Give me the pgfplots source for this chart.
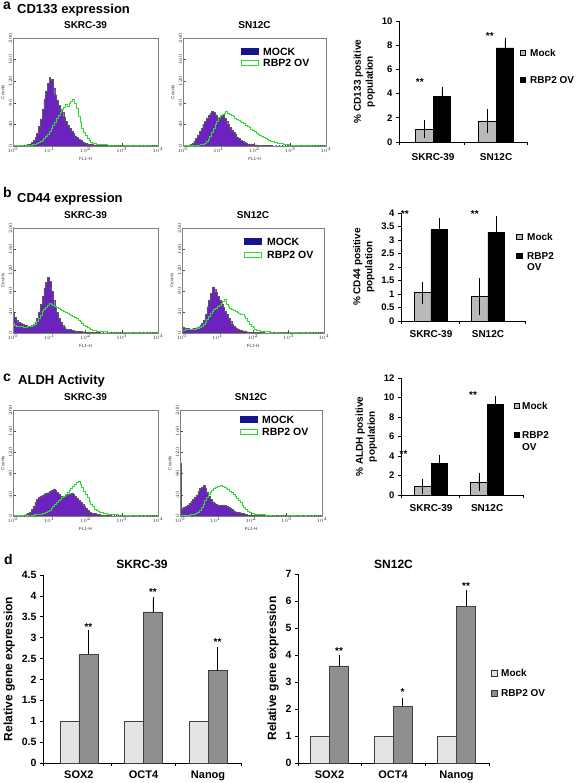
\documentclass[border=0pt]{standalone}
\usepackage{fontspec}
\setmainfont{Liberation Sans}
\usepackage{pgfplots}
\pgfplotsset{compat=1.18}
\definecolor{mockpurple}{RGB}{108,34,190}
\definecolor{ovgreen}{RGB}{40,225,40}
\definecolor{legnavy}{RGB}{22,22,140}
\definecolor{mockgray}{RGB}{185,185,185}
\definecolor{dmock}{RGB}{228,228,228}
\definecolor{dov}{RGB}{143,143,143}
\newcommand{\fsz}[2]{\fontsize{#1}{#2}\selectfont}
\pgfplotsset{
 hist/.style={
  scale only axis, anchor=south west,
  xmin=0, xmax=4, ymin=0, ymax=200,
  axis line style={draw=gray, line width=0.5pt},
  tick pos=left, tick align=inside,
  xtick={0,1,2,3,4},
  xticklabels={$10^0$,$10^1$,$10^2$,$10^3$,$10^4$},
  minor xtick={0.301,0.477,0.602,0.699,0.778,0.845,0.903,0.954,1.301,1.477,1.602,1.699,1.778,1.845,1.903,1.954,2.301,2.477,2.602,2.699,2.778,2.845,2.903,2.954,3.301,3.477,3.602,3.699,3.778,3.845,3.903,3.954},
  ytick={0,40,80,120,160,200},
  minor ytick={10,20,...,190},
  major tick length=2.5pt, minor tick length=1.2pt,
  tick style={gray!60!black, line width=0.3pt},
  tick label style={font=\fsz{4.5}{5}, text=gray!40!black},
  yticklabel style={rotate=90, anchor=south, inner sep=0.8pt},
  xticklabel style={anchor=north, inner sep=1pt},
  xlabel={FL1-H}, ylabel={Counts},
  label style={font=\fsz{4.5}{5}, text=gray!40!black},
  title style={font=\bfseries\fsz{10}{12}, at={(0.5,1)}, anchor=base, yshift=3.5pt},
  axis on top,
 },
 mock/.style={const plot, fill=mockpurple, draw=black!65, line width=0.3pt},
 ov/.style={const plot, draw=ovgreen, line width=1pt},
 barax/.style={
  scale only axis, anchor=south west,
  axis lines*=left,
  axis line style={black, line width=0.6pt},
  ymin=0, clip=false,
  tick align=outside, major tick length=3pt,
  tick style={black, line width=0.6pt},
  /pgf/number format/assume math mode=true,
  tick label style={font=\bfseries\fsz{9.5}{11}},
  ylabel style={font=\bfseries\fsz{10}{12}, align=center},
  xticklabels={},
  extra x tick style={tick style={draw=none}, tick label style={font=\bfseries\fsz{10}{12}}},
 },
 ebar/.style={error bars/error bar style={black, line width=0.6pt}, error bars/error mark options={black, mark size=3.2pt, line width=0.6pt}},
}
\begin{document}
\begin{tikzpicture}
\path[use as bounding box] (0,0) rectangle (576pt,783pt);
% ---------- panel labels ----------
\node[anchor=base west, inner sep=0, font=\bfseries\fsz{14}{16}] at (3pt,773pt) {a};
\node[anchor=base west, inner sep=0, font=\bfseries\fsz{13}{15}] at (17pt,769.5pt) {CD133 expression};
\node[anchor=base west, inner sep=0, font=\bfseries\fsz{14}{16}] at (3pt,585pt) {b};
\node[anchor=base west, inner sep=0, font=\bfseries\fsz{13}{15}] at (17pt,580.5pt) {CD44 expression};
\node[anchor=base west, inner sep=0, font=\bfseries\fsz{14}{16}] at (3pt,401pt) {c};
\node[anchor=base west, inner sep=0, font=\bfseries\fsz{13}{15}] at (18pt,398pt) {ALDH Activity};
\node[anchor=base west, inner sep=0, font=\bfseries\fsz{14}{16}] at (4pt,218pt) {d};

% ================= PANEL A =================
\begin{axis}[hist, at={(13pt,637pt)}, width=145pt, height=108pt, title={SKRC-39}]
\addplot[mock] coordinates {(0,0) (0.1,1) (0.2,1) (0.3,2) (0.35,2) (0.4,3) (0.45,4) (0.5,7) (0.55,10) (0.6,16) (0.65,24) (0.7,36) (0.75,50) (0.8,68) (0.85,86) (0.9,102) (0.95,116) (1.0,127) (1.03,122) (1.05,124) (1.1,108) (1.15,95) (1.2,84) (1.25,75) (1.3,69) (1.35,63) (1.4,54) (1.45,46) (1.5,39) (1.55,33) (1.6,28) (1.65,23) (1.7,19) (1.75,16) (1.8,13) (1.85,10) (1.9,8) (1.95,6) (2.0,5) (2.05,4) (2.1,3) (2.2,2) (2.3,1) (2.5,1) (2.7,0) (4,0)} \closedcycle;
\addplot[ov] coordinates {(0,1) (0.3,0) (0.4,1) (0.5,1) (0.55,2) (0.6,3) (0.65,4) (0.7,6) (0.75,8) (0.8,11) (0.85,14) (0.9,18) (0.95,22) (1.0,27) (1.05,32) (1.1,38) (1.15,44) (1.2,51) (1.25,57) (1.3,62) (1.35,68) (1.4,72) (1.45,76) (1.5,74) (1.55,79) (1.6,82) (1.65,86) (1.7,79) (1.75,69) (1.8,55) (1.85,43) (1.9,33) (1.95,25) (2.0,19) (2.05,14) (2.1,10) (2.15,7) (2.2,5) (2.3,3) (2.4,2) (2.6,1) (3.2,1) (3.5,0) (4,1)};
\end{axis}
\begin{axis}[hist, at={(183pt,637pt)}, width=143pt, height=108pt, title={SN12C}]
\addplot[mock] coordinates {(0,0) (0.1,1) (0.15,2) (0.2,3) (0.25,5) (0.3,9) (0.35,14) (0.4,20) (0.45,27) (0.5,33) (0.55,40) (0.6,46) (0.65,52) (0.7,57) (0.75,61) (0.8,64) (0.85,62) (0.9,58) (0.95,53) (1.0,50) (1.05,55) (1.1,57) (1.15,52) (1.2,46) (1.25,40) (1.3,35) (1.35,30) (1.4,25) (1.45,21) (1.5,17) (1.55,14) (1.6,11) (1.65,9) (1.7,7) (1.75,6) (1.8,4) (1.9,3) (2.0,2) (2.1,1) (2.3,1) (2.5,0) (4,0)} \closedcycle;
\addplot[ov] coordinates {(0,1) (0.4,1) (0.5,2) (0.55,3) (0.6,5) (0.65,8) (0.7,12) (0.75,18) (0.8,25) (0.85,33) (0.9,40) (0.95,46) (1.0,52) (1.05,56) (1.1,59) (1.15,61) (1.2,63) (1.25,60) (1.3,58) (1.35,56) (1.4,54) (1.45,51) (1.5,49) (1.55,47) (1.6,45) (1.65,43) (1.7,41) (1.75,38) (1.8,36) (1.85,34) (1.9,31) (1.95,29) (2.0,27) (2.05,24) (2.1,22) (2.15,20) (2.2,17) (2.25,15) (2.3,14) (2.35,12) (2.4,10) (2.45,9) (2.5,8) (2.55,7) (2.6,6) (2.65,5) (2.7,4) (2.8,3) (2.9,2) (3.0,1) (4,1)};
\end{axis}
\begin{axis}[barax, at={(399pt,641pt)}, width=128pt, height=121pt,
  xmin=0.46, xmax=2.49, ymax=10, ytick={0,2,...,10},
  xtick={0.46,1.5,2.49}, extra x ticks={1,2}, extra x tick labels={SKRC-39,SN12C},
  extra x tick style={tick label style={yshift=-5pt}},
  ylabel={\% CD133 positive\\population}]
\addplot[ybar, bar width=0.278, bar shift=0pt, fill=mockgray, draw=black, line width=0.6pt, error bars/y dir=both, error bars/y explicit, ebar] coordinates {(0.861,1.05) +- (0,0.48) (1.861,1.75) +- (0,0.73)};
\addplot[ybar, bar width=0.278, bar shift=0pt, fill=black, draw=black, line width=0.6pt, error bars/y dir=plus, error bars/y explicit, ebar] coordinates {(1.139,3.77) +- (0,0.55) (2.139,7.77) +- (0,0.58)};
\node[font=\bfseries\fsz{10}{12}, inner sep=0] at (axis cs:0.79,4.95) {**};
\node[font=\bfseries\fsz{10}{12}, inner sep=0] at (axis cs:1.9,8.76) {**};
\end{axis}

% ================= PANEL B =================
\begin{axis}[hist, at={(13pt,450pt)}, width=145pt, height=105pt, title={SKRC-39}]
\addplot[mock] coordinates {(0,40) (0.03,30) (0.08,24) (0.13,20) (0.2,18) (0.25,16) (0.3,15) (0.35,14) (0.4,13) (0.45,13) (0.5,14) (0.55,16) (0.6,20) (0.65,28) (0.7,40) (0.75,55) (0.8,70) (0.85,85) (0.9,96) (0.95,106) (1.0,98) (1.05,80) (1.1,62) (1.15,50) (1.2,39) (1.25,29) (1.3,21) (1.35,15) (1.4,11) (1.45,8) (1.5,7) (1.6,5) (1.7,4) (1.8,3) (1.9,2) (2.0,2) (2.2,1) (2.4,0) (4,0)} \closedcycle;
\addplot[ov] coordinates {(0,210) (0.015,18) (0.05,14) (0.1,13) (0.2,12) (0.3,11) (0.4,12) (0.5,13) (0.55,14) (0.6,17) (0.65,22) (0.7,28) (0.75,34) (0.8,40) (0.85,45) (0.9,48) (0.95,52) (1.0,56) (1.05,54) (1.1,52) (1.15,50) (1.2,49) (1.25,47) (1.3,45) (1.35,43) (1.4,41) (1.45,39) (1.5,37) (1.55,35) (1.6,33) (1.65,31) (1.7,29) (1.75,27) (1.8,24) (1.85,21) (1.9,18) (1.95,15) (2.0,12) (2.05,10) (2.1,8) (2.15,6) (2.2,4) (2.3,3) (2.4,2) (2.6,1) (4,1)};
\end{axis}
\begin{axis}[hist, at={(182pt,450pt)}, width=142pt, height=105pt, title={SN12C}]
\addplot[mock] coordinates {(0,12) (0.05,10) (0.1,9) (0.2,8) (0.3,9) (0.4,10) (0.45,12) (0.5,14) (0.55,18) (0.6,25) (0.65,36) (0.7,50) (0.75,63) (0.8,76) (0.85,88) (0.9,84) (0.95,78) (1.0,70) (1.05,62) (1.1,55) (1.15,49) (1.2,42) (1.25,35) (1.3,28) (1.35,22) (1.4,17) (1.45,13) (1.5,10) (1.55,7) (1.6,6) (1.7,4) (1.8,2) (1.9,1) (2.1,1) (2.3,0) (4,0)} \closedcycle;
\addplot[ov] coordinates {(0,5) (0.1,6) (0.2,7) (0.3,7) (0.4,8) (0.5,10) (0.55,12) (0.6,16) (0.65,20) (0.7,26) (0.75,32) (0.8,37) (0.85,41) (0.9,44) (0.95,47) (1.0,50) (1.05,53) (1.1,56) (1.15,60) (1.2,64) (1.25,55) (1.3,50) (1.35,47) (1.4,45) (1.45,43) (1.5,41) (1.55,39) (1.6,38) (1.65,36) (1.7,35) (1.75,32) (1.8,27) (1.85,22) (1.9,17) (1.95,13) (2.0,10) (2.05,7) (2.1,5) (2.2,3) (2.3,2) (2.5,1) (4,1)};
\end{axis}
\begin{axis}[barax, at={(401pt,462pt)}, width=124pt, height=108pt,
  xmin=0.474, xmax=2.65, ymax=4, ytick={0,0.5,...,4},
  xtick={0.474,1.5,2.65}, extra x ticks={1,2}, extra x tick labels={SKRC-39,SN12C},
  extra x tick style={tick label style={yshift=-3pt}},
  ylabel={\% CD44 positive\\population}]
\addplot[ybar, bar width=0.29, bar shift=0pt, fill=mockgray, draw=black, line width=0.6pt, error bars/y dir=both, error bars/y explicit, ebar] coordinates {(0.855,1.05) +- (0,0.29) (1.855,0.9) +- (0,0.57)};
\addplot[ybar, bar width=0.29, bar shift=0pt, fill=black, draw=black, line width=0.6pt, error bars/y dir=plus, error bars/y explicit, ebar] coordinates {(1.145,3.38) +- (0,0.31) (2.145,3.27) +- (0,0.5)};
\node[font=\bfseries\fsz{10}{12}, inner sep=0] at (axis cs:0.54,3.97) {**};
\node[font=\bfseries\fsz{10}{12}, inner sep=0] at (axis cs:1.77,3.97) {**};
\end{axis}

% ================= PANEL C =================
\begin{axis}[hist, at={(13pt,267pt)}, width=145pt, height=106pt, title={SKRC-39}]
\addplot[mock] coordinates {(0,0) (0.2,1) (0.3,2) (0.35,3) (0.4,5) (0.45,8) (0.5,12) (0.55,18) (0.6,26) (0.65,32) (0.7,36) (0.75,38) (0.8,40) (0.85,42) (0.9,43) (0.95,44) (1.0,46) (1.05,48) (1.1,51) (1.15,49) (1.2,45) (1.25,42) (1.3,38) (1.35,36) (1.4,37) (1.45,39) (1.5,41) (1.55,42) (1.6,43) (1.65,41) (1.7,38) (1.75,34) (1.8,30) (1.85,26) (1.9,22) (1.95,18) (2.0,14) (2.05,11) (2.1,8) (2.15,6) (2.2,5) (2.3,3) (2.4,2) (2.5,1) (2.7,0) (4,0)} \closedcycle;
\addplot[ov] coordinates {(0,1) (0.5,1) (0.6,2) (0.7,3) (0.8,4) (0.85,5) (0.9,7) (0.95,9) (1.0,11) (1.05,14) (1.1,18) (1.15,22) (1.2,26) (1.25,29) (1.3,31) (1.35,34) (1.4,37) (1.45,40) (1.5,44) (1.55,48) (1.6,52) (1.65,56) (1.7,60) (1.75,63) (1.8,66) (1.85,60) (1.9,54) (1.95,47) (2.0,40) (2.05,34) (2.1,28) (2.15,22) (2.2,17) (2.25,13) (2.3,10) (2.35,8) (2.4,6) (2.5,4) (2.6,3) (2.7,2) (2.9,1) (4,1)};
\end{axis}
\begin{axis}[hist, at={(180pt,267pt)}, width=142pt, height=106pt, title={SN12C}]
\addplot[mock] coordinates {(0,100) (0.02,12) (0.05,14) (0.1,16) (0.15,18) (0.2,21) (0.25,24) (0.3,28) (0.35,31) (0.4,35) (0.45,40) (0.5,46) (0.55,52) (0.6,55) (0.65,58) (0.7,53) (0.75,45) (0.8,37) (0.85,31) (0.9,27) (0.95,24) (1.0,22) (1.05,21) (1.1,20) (1.15,20) (1.2,21) (1.25,20) (1.3,18) (1.35,16) (1.4,14) (1.45,12) (1.5,10) (1.55,8) (1.6,7) (1.7,5) (1.8,3) (1.9,2) (2.0,1) (2.2,1) (2.4,0) (4,0)} \closedcycle;
\addplot[ov] coordinates {(0,1) (0.3,2) (0.4,3) (0.45,4) (0.5,6) (0.55,10) (0.6,16) (0.65,22) (0.7,29) (0.75,35) (0.8,40) (0.85,45) (0.9,48) (0.95,51) (1.0,53) (1.05,55) (1.1,56) (1.15,57) (1.2,56) (1.25,54) (1.3,52) (1.35,50) (1.4,47) (1.45,44) (1.5,41) (1.55,37) (1.6,33) (1.65,29) (1.7,25) (1.75,20) (1.8,16) (1.85,12) (1.9,9) (1.95,7) (2.0,5) (2.1,3) (2.2,2) (2.4,1) (4,1)};
\end{axis}
\begin{axis}[barax, at={(401pt,288pt)}, width=122pt, height=117pt,
  xmin=0.464, xmax=2.64, ymax=12, ytick={0,2,...,12},
  xtick={0.464,1.5,2.64}, extra x ticks={1,2}, extra x tick labels={SKRC-39,SN12C},
  extra x tick style={tick label style={yshift=-3pt}},
  ylabel={\% ALDH positive\\population}]
\addplot[ybar, bar width=0.295, bar shift=0pt, fill=mockgray, draw=black, line width=0.6pt, error bars/y dir=both, error bars/y explicit, ebar] coordinates {(0.852,0.86) +- (0,0.44) (1.852,1.3) +- (0,0.6)};
\addplot[ybar, bar width=0.295, bar shift=0pt, fill=black, draw=black, line width=0.6pt, error bars/y dir=plus, error bars/y explicit, ebar] coordinates {(1.148,3.26) +- (0,0.5) (2.148,9.32) +- (0,0.52)};
\node[font=\bfseries\fsz{10}{12}, inner sep=0] at (axis cs:0.51,4.2) {**};
\node[font=\bfseries\fsz{10}{12}, inner sep=0] at (axis cs:1.75,10.26) {**};
\end{axis}

% ================= PANEL D =================
\begin{axis}[barax, at={(43pt,20pt)}, width=198pt, height=188pt,
  xmin=0.444, xmax=3.51, ymax=4.5, ytick={0,0.5,...,4.5},
  xtick={0.444,1.5,2.5,3.51}, extra x ticks={1,2,3}, extra x tick labels={SOX2,OCT4,Nanog},
  tick label style={font=\bfseries\fsz{10.5}{12}},
  extra x tick style={tick label style={yshift=-1pt, font=\bfseries\fsz{11}{13}}},
  ylabel={Relative gene expression}, ylabel style={font=\bfseries\fsz{12}{14}},
  title={SKRC-39}, title style={font=\bfseries\fsz{12}{14}, at={(0.5,1)}, anchor=base, yshift=0pt}]
\addplot[ybar, bar width=0.293, bar shift=0pt, fill=dmock, draw=black!75, line width=0.5pt] coordinates {(0.853,1) (1.853,1) (2.853,1)};
\addplot[ybar, bar width=0.293, bar shift=0pt, fill=dov, draw=black!75, line width=0.5pt, error bars/y dir=plus, error bars/y explicit, error bars/error bar style={black, line width=0.6pt}, error bars/error mark options={black, mark size=2.4pt, line width=0.6pt}] coordinates {(1.147,2.6) +- (0,0.52) (2.147,3.62) +- (0,0.3) (3.147,2.21) +- (0,0.51)};
\node[font=\bfseries\fsz{10}{12}, inner sep=0] at (axis cs:1.147,3.25) {**};
\node[font=\bfseries\fsz{10}{12}, inner sep=0] at (axis cs:2.147,4.1) {**};
\node[font=\bfseries\fsz{10}{12}, inner sep=0] at (axis cs:3.147,2.9) {**};
\end{axis}
\begin{axis}[barax, at={(298pt,20pt)}, width=191pt, height=189pt,
  xmin=0.504, xmax=3.51, ymax=7, ytick={0,1,...,7},
  xtick={0.504,1.5,2.5,3.51}, extra x ticks={1,2,3}, extra x tick labels={SOX2,OCT4,Nanog},
  tick label style={font=\bfseries\fsz{10.5}{12}},
  extra x tick style={tick label style={yshift=-1pt, font=\bfseries\fsz{11}{13}}},
  ylabel={Relative gene expression}, ylabel style={font=\bfseries\fsz{12}{14}},
  title={SN12C}, title style={font=\bfseries\fsz{12}{14}, at={(0.5,1)}, anchor=base, yshift=0pt}]
\addplot[ybar, bar width=0.3, bar shift=0pt, fill=dmock, draw=black!75, line width=0.5pt] coordinates {(0.85,1) (1.85,1) (2.85,1)};
\addplot[ybar, bar width=0.3, bar shift=0pt, fill=dov, draw=black!75, line width=0.5pt, error bars/y dir=plus, error bars/y explicit, error bars/error bar style={black, line width=0.6pt}, error bars/error mark options={black, mark size=2.4pt, line width=0.6pt}] coordinates {(1.15,3.6) +- (0,0.31) (2.15,2.1) +- (0,0.21) (3.15,5.8) +- (0,0.53)};
\node[font=\bfseries\fsz{10}{12}, inner sep=0] at (axis cs:1.15,4.13) {**};
\node[font=\bfseries\fsz{10}{12}, inner sep=0] at (axis cs:2.15,2.63) {*};
\node[font=\bfseries\fsz{10}{12}, inner sep=0] at (axis cs:3.15,6.54) {**};
\end{axis}

% ---------- histogram legends ----------
\begin{scope}[every node/.style={anchor=west, inner sep=0, font=\bfseries\fsz{10.5}{12}}]
\fill[legnavy] (241pt,728pt) rectangle (259pt,735pt);
\draw[ovgreen, line width=1.4pt, fill=white] (241.7pt,717.7pt) rectangle (258.3pt,722.3pt);
\node at (263pt,731.5pt) {MOCK};
\node at (263pt,720pt) {RBP2 OV};
\fill[legnavy] (244pt,537.5pt) rectangle (262pt,544.5pt);
\draw[ovgreen, line width=1.4pt, fill=white] (244.7pt,525.7pt) rectangle (261.3pt,530.3pt);
\node at (267pt,541pt) {MOCK};
\node at (267pt,528pt) {RBP2 OV};
\fill[legnavy] (240pt,360pt) rectangle (258pt,367pt);
\draw[ovgreen, line width=1.4pt, fill=white] (240.7pt,348.7pt) rectangle (257.3pt,353.3pt);
\node at (262pt,363.5pt) {MOCK};
\node at (262pt,351pt) {RBP2 OV};
\end{scope}
% ---------- bar legends ----------
\begin{scope}[every node/.style={anchor=west, inner sep=0, font=\bfseries\fsz{10}{12}}]
\draw[fill=mockgray, line width=0.5pt] (520pt,727.3pt) rectangle (525.5pt,732.8pt);
\node at (530pt,730pt) {Mock};
\draw[fill=black, line width=0.5pt] (520pt,700.3pt) rectangle (525.5pt,705.8pt);
\node at (530pt,703pt) {RBP2 OV};
\draw[fill=mockgray, line width=0.5pt] (516.5pt,543.3pt) rectangle (522pt,548.8pt);
\node at (527pt,546pt) {Mock};
\draw[fill=black, line width=0.5pt] (516.5pt,524.3pt) rectangle (522pt,529.8pt);
\node at (527pt,527pt) {RBP2};
\node at (527pt,515.5pt) {OV};
\draw[fill=mockgray, line width=0.5pt] (514pt,374.3pt) rectangle (519.5pt,379.8pt);
\node at (522pt,377pt) {Mock};
\draw[fill=black, line width=0.5pt] (514pt,345.3pt) rectangle (519.5pt,350.8pt);
\node at (522pt,348pt) {RBP2};
\node at (522pt,336pt) {OV};
\draw[fill=dmock, draw=black!80, line width=0.5pt] (491pt,107pt) rectangle (497pt,113pt);
\node at (501pt,110pt) {Mock};
\draw[fill=dov, draw=black!80, line width=0.5pt] (491pt,87pt) rectangle (497pt,93pt);
\node at (501pt,90pt) {RBP2 OV};
\end{scope}
\end{tikzpicture}
\end{document}
